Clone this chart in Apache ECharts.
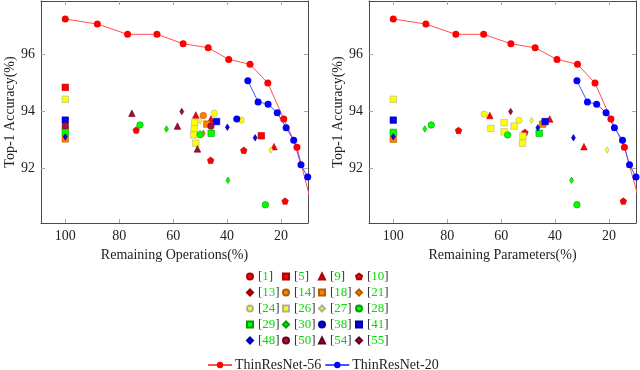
<!DOCTYPE html>
<html>
<head>
<meta charset="utf-8">
<script src="https://cdn.jsdelivr.net/npm/echarts@6/dist/echarts.min.js"></script>
<style>
html, body { margin: 0; padding: 0; background: #fff; }
#chart { width: 640px; height: 370px; }
</style>
</head>
<body>
<div id="chart"></div>
<script>
var xTicks = [20, 40, 60, 80, 100];
var yTicks = [92, 94, 96];

// ThinResNet curves, [remaining %, top-1 %]
var thin56Ops = [[100, 97.24], [88.1, 97.06], [76.9, 96.70], [66.0, 96.70], [56.3, 96.37], [47.0, 96.23], [39.4, 95.82], [31.5, 95.65], [24.9, 94.99], [19.0, 93.73], [14.1, 92.74], [8.6, 90.70]];
var thin20Ops = [[32.3, 95.07], [28.5, 94.33], [24.8, 94.25], [21.4, 93.95], [18.1, 93.42], [15.3, 92.98], [12.6, 92.12], [10.1, 91.69]];
var thin56Par = [[100, 97.24], [87.9, 97.06], [76.8, 96.70], [66.5, 96.70], [56.4, 96.37], [47.4, 96.23], [39.3, 95.82], [31.7, 95.65], [25.2, 94.99], [19.3, 93.73], [14.3, 92.74], [8.6, 90.80]];
var thin20Par = [[31.9, 95.07], [28.0, 94.33], [24.6, 94.25], [21.1, 93.95], [18.0, 93.42], [15.0, 92.98], [12.4, 92.12], [10.0, 91.69]];

var refNames = ['[1]', '[5]', '[9]', '[10]', '[13]', '[14]', '[18]', '[21]', '[24]', '[26]', '[27]', '[28]', '[29]', '[30]', '[38]', '[41]', '[48]', '[50]', '[54]', '[55]'];

// [method, remaining operations %, top-1 %]
var opsPoints = [
  ['[1]', 100, 93.40],
  ['[5]', 100, 94.84], ['[5]', 27.3, 93.14],
  ['[9]', 51.6, 93.87], ['[9]', 46.0, 93.73], ['[9]', 22.6, 92.76],
  ['[10]', 73.7, 93.34], ['[10]', 46.1, 92.28], ['[10]', 33.8, 92.63], ['[10]', 18.5, 90.85],
  ['[14]', 48.8, 93.85],
  ['[18]', 100, 93.03], ['[18]', 47.5, 93.55],
  ['[21]', 48.8, 93.23],
  ['[24]', 44.8, 93.93], ['[24]', 34.8, 93.69],
  ['[26]', 100, 94.42], ['[26]', 52.0, 93.60], ['[26]', 52.2, 93.39], ['[26]', 52.4, 93.17], ['[26]', 51.6, 92.88],
  ['[27]', 50.0, 93.66], ['[27]', 50.0, 93.24], ['[27]', 23.8, 92.64],
  ['[28]', 72.3, 93.52], ['[28]', 50.0, 93.18], ['[28]', 25.8, 90.72],
  ['[29]', 100, 93.27], ['[29]', 45.9, 93.23],
  ['[30]', 62.5, 93.38], ['[30]', 39.7, 91.58],
  ['[38]', 36.4, 93.73],
  ['[41]', 100, 93.69], ['[41]', 43.9, 93.64],
  ['[48]', 100, 93.58], ['[48]', 100, 93.10], ['[48]', 39.9, 93.44], ['[48]', 29.6, 93.07],
  ['[50]', 100, 93.49], ['[50]', 46.0, 93.48],
  ['[54]', 75.3, 93.93], ['[54]', 58.4, 93.48], ['[54]', 51.0, 92.68],
  ['[55]', 56.8, 93.99]
];

// [method, remaining parameters %, top-1 %]
var parPoints = [
  ['[9]', 64.2, 93.85], ['[9]', 42.0, 93.73], ['[9]', 29.3, 92.76],
  ['[10]', 75.8, 93.33], ['[10]', 51.2, 93.26], ['[10]', 14.7, 90.85],
  ['[18]', 100, 93.02], ['[18]', 44.6, 93.55],
  ['[24]', 66.3, 93.90], ['[24]', 53.4, 93.68],
  ['[26]', 100, 94.42], ['[26]', 63.8, 93.40], ['[26]', 58.9, 93.60], ['[26]', 58.9, 93.28], ['[26]', 55.2, 93.48], ['[26]', 51.9, 93.13], ['[26]', 52.1, 92.88],
  ['[27]', 48.7, 93.68], ['[27]', 20.7, 92.64],
  ['[28]', 85.9, 93.52], ['[28]', 57.6, 93.17], ['[28]', 31.9, 90.72],
  ['[29]', 100, 93.26], ['[29]', 45.9, 93.23],
  ['[30]', 88.3, 93.38], ['[30]', 33.9, 91.58],
  ['[41]', 100, 93.69], ['[41]', 43.7, 93.64],
  ['[48]', 100, 93.11], ['[48]', 46.4, 93.42], ['[48]', 33.2, 93.07],
  ['[55]', 56.5, 93.99]
];

var PENTAGON = 'path://M0,-1L0.951,-0.309L0.588,0.809L-0.588,0.809L-0.951,-0.309Z';
var RED = '#ff0000', ORANGE = '#ff8000', YELLOW = '#ffff00', GREEN = '#00ff00', BLUE = '#0000ff', PLUM = '#b0103c';
var markStyle = {
  '[1]': [RED, 'circle'], '[5]': [RED, 'rect'], '[9]': [RED, 'triangle'], '[10]': [RED, PENTAGON],
  '[13]': ['#e00000', 'diamond'], '[14]': [ORANGE, 'circle'], '[18]': [ORANGE, 'rect'], '[21]': [ORANGE, 'diamond'],
  '[24]': [YELLOW, 'circle'], '[26]': [YELLOW, 'rect'], '[27]': [YELLOW, 'diamond'], '[28]': [GREEN, 'circle'],
  '[29]': [GREEN, 'rect'], '[30]': [GREEN, 'diamond'], '[38]': [BLUE, 'circle'], '[41]': [BLUE, 'rect'],
  '[48]': [BLUE, 'diamond'], '[50]': [PLUM, 'circle'], '[54]': ['#a0102c', 'triangle'], '[55]': ['#a0102c', 'diamond']
};
var borderOf = {};
borderOf[RED] = '#b00000'; borderOf[ORANGE] = '#b85c00'; borderOf[YELLOW] = '#b0b0a0';
borderOf[GREEN] = '#00a000'; borderOf[BLUE] = '#0000a0'; borderOf[PLUM] = '#700020';
borderOf['#e00000'] = '#900000'; borderOf['#a0102c'] = '#600018';

var SERIF = 'Liberation Serif';

function pick(list, name) {
  return list.filter(function (p) { return p[0] === name; }).map(function (p) { return [p[1], p[2]]; });
}

function scatterSeries(list, axisIdx) {
  return refNames.map(function (name) {
    var st = markStyle[name];
    var size = st[1] === 'diamond' ? [4, 6.5] : 6.5;
    return {
      name: name,
      type: 'scatter',
      xAxisIndex: axisIdx,
      yAxisIndex: axisIdx,
      symbol: st[1],
      symbolSize: size,
      itemStyle: { color: st[0], borderColor: borderOf[st[0]] || '#666', borderWidth: 0.6, opacity: 1 },
      emphasis: { disabled: true },
      data: pick(list, name)
    };
  });
}

function lineSeries(name, data, axisIdx, color, lineColor) {
  return {
    name: name,
    type: 'line',
    xAxisIndex: axisIdx,
    yAxisIndex: axisIdx,
    clip: true,
    symbol: 'circle',
    symbolSize: 7,
    showAllSymbol: true,
    itemStyle: { color: color },
    lineStyle: { color: lineColor, width: 1 },
    emphasis: { disabled: true },
    z: 1,
    data: data
  };
}

function xAxes(gridIndex, name) {
  var base = {
    type: 'value', gridIndex: gridIndex, min: 10, max: 109, inverse: true,
    axisLine: { show: true, onZero: false, lineStyle: { color: '#4a4a4a', width: 1 } },
    axisTick: { show: true, inside: true, length: 4, customValues: xTicks, lineStyle: { color: '#aaaaaa' } },
    splitLine: { show: false }
  };
  var bottom = Object.assign({}, base, {
    position: 'bottom',
    axisLabel: { customValues: xTicks, fontFamily: SERIF, fontSize: 14, color: '#222', margin: 6 },
    name: name, nameLocation: 'middle', nameGap: 18,
    nameTextStyle: { fontFamily: SERIF, fontSize: 14, color: '#222' }
  });
  var top = Object.assign({}, base, { position: 'top', axisLabel: { show: false } });
  return [bottom, top];
}

function yAxes(gridIndex) {
  var base = {
    type: 'value', gridIndex: gridIndex, min: 90.08, max: 97.87,
    axisLine: { show: true, onZero: false, lineStyle: { color: '#4a4a4a', width: 1 } },
    axisTick: { show: true, inside: true, length: 4, customValues: yTicks, lineStyle: { color: '#aaaaaa' } },
    splitLine: { show: false }
  };
  var left = Object.assign({}, base, {
    position: 'left',
    axisLabel: { customValues: yTicks, fontFamily: SERIF, fontSize: 14, color: '#222', margin: 6 },
    name: 'Top-1 Accuracy(%)', nameLocation: 'middle', nameGap: 24, nameRotate: 90,
    nameTextStyle: { fontFamily: SERIF, fontSize: 14, color: '#222' }
  });
  var right = Object.assign({}, base, { position: 'right', axisLabel: { show: false } });
  return [left, right];
}

function refLegend(names, left) {
  return {
    data: names,
    orient: 'vertical',
    left: left,
    top: 270,
    itemWidth: 6,
    itemHeight: 6,
    itemGap: 3,
    padding: 0,
    selectedMode: false,
    formatter: function (n) { return '{b|[}{g|' + n.slice(1, -1) + '}{b|]}'; },
    textStyle: {
      rich: {
        b: { color: '#333', fontFamily: SERIF, fontSize: 13 },
        g: { color: '#00dd00', fontFamily: SERIF, fontSize: 13 }
      }
    }
  };
}

var chart = echarts.init(document.getElementById('chart'), null, { renderer: 'canvas' });
chart.setOption({
  animation: false,
  backgroundColor: '#ffffff',
  grid: [
    { left: 41, top: 1, width: 267, height: 222, outerBoundsMode: 'none' },
    { left: 369, top: 1, width: 267, height: 222, outerBoundsMode: 'none' }
  ],
  xAxis: xAxes(0, 'Remaining Operations(%)').concat(xAxes(1, 'Remaining Parameters(%)')),
  yAxis: yAxes(0).concat(yAxes(1)),
  legend: [
    refLegend(['[1]', '[13]', '[24]', '[29]', '[48]'], 246),
    refLegend(['[5]', '[14]', '[26]', '[30]', '[50]'], 282),
    refLegend(['[9]', '[18]', '[27]', '[38]', '[54]'], 318),
    refLegend(['[10]', '[21]', '[28]', '[41]', '[55]'], 355),
    {
      data: ['ThinResNet-56', 'ThinResNet-20'],
      left: 207, top: 358,
      itemWidth: 24, itemHeight: 8, itemGap: 3,
      padding: 0,
      selectedMode: false,
      textStyle: { fontFamily: SERIF, fontSize: 14, color: '#222', padding: [0, 0, 0, -2] }
    }
  ],
  series: [].concat(
    scatterSeries(opsPoints, 0),
    scatterSeries(parPoints, 2),
    [
      lineSeries('ThinResNet-56', thin56Ops, 0, RED, '#ff5050'),
      lineSeries('ThinResNet-20', thin20Ops, 0, BLUE, '#5050ff'),
      lineSeries('ThinResNet-56', thin56Par, 2, RED, '#ff5050'),
      lineSeries('ThinResNet-20', thin20Par, 2, BLUE, '#5050ff')
    ]
  )
});
</script>
</body>
</html>
